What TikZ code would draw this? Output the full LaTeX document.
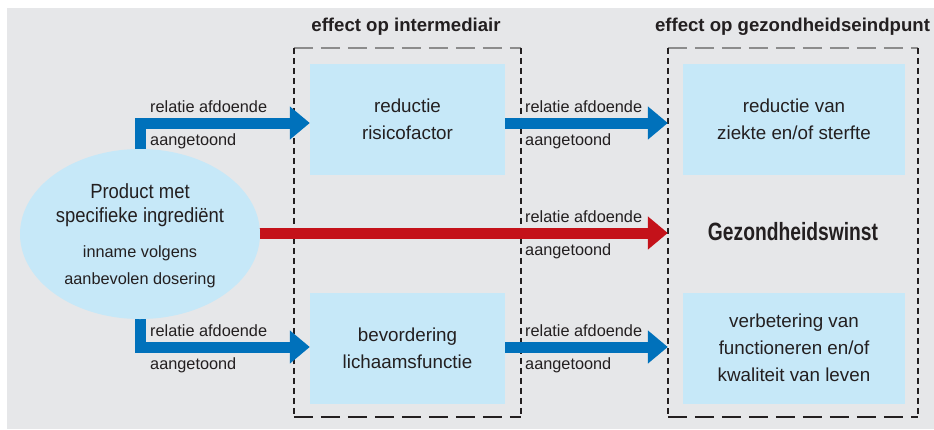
\documentclass[tikz,border=0pt]{standalone}
\usepackage{fontspec}
\setmainfont{Liberation Sans}
\newfontfamily\smalA{Liberation Sans}[FakeStretch=0.9]
\newfontfamily\smalB{Liberation Sans}[FakeStretch=0.77]
\usetikzlibrary{arrows.meta,positioning,shapes.geometric}
\definecolor{achter}{HTML}{E6E7E9}
\definecolor{lichtblauw}{HTML}{C6E8F8}
\definecolor{blauw}{HTML}{0071BB}
\definecolor{rood}{HTML}{C4121A}
\definecolor{tekst}{HTML}{231F20}
\definecolor{grijs}{HTML}{8C8C8C}

\begin{document}
\begin{tikzpicture}[
    x=1pt, y=-1pt,
    every node/.style={text=tekst, inner sep=0pt},
    vak/.style={fill=lichtblauw, minimum width=#1, minimum height=111pt,
                align=center, font=\fontsize{18.8}{27}\selectfont},
    zone/.style={minimum width=#1, minimum height=369pt},
    lbl/.style={anchor=base west, font=\fontsize{16.3}{20}\selectfont},
    kop/.style={anchor=base, font=\fontsize{18.6}{22}\selectfont\bfseries},
    pijl/.style={line width=11pt, line join=miter,
                 -{Triangle[length=20pt,width=32pt]}},
    zijkant/.style={draw=tekst, line width=1.5pt, dash pattern=on 6pt off 4pt},
    boven/.style={draw=grijs, line width=1.5pt, dash pattern=on 19pt off 8pt},
    onder/.style={draw=tekst, line width=1.5pt, dash pattern=on 19pt off 8pt},
  ]
  \useasboundingbox (0,0) rectangle (934,429);
  \fill[achter] (7,8) rectangle (934,429);

  % kaders
  \node[zone=227pt] (inter) at (407.5,232.5) {};
  \node[zone=250pt] (eind) at (793,232.5) {};
  \node[kop] (kopinter) at (406,31.5) {effect op intermediair};
  \node[kop] (kopeind) at (792.5,31.5) {effect op gezondheidseindpunt};
  \foreach \z in {inter,eind}{
    \draw[boven] (\z.north west) -- (\z.north east);
    \draw[onder] (\z.south west) -- (\z.south east);
    \draw[zijkant] (\z.north west) -- (\z.south west);
    \draw[zijkant] (\z.north east) -- (\z.south east);
  }

  \node[vak=195pt] (risico) at (407.5,119.5) {reductie\\risicofactor};
  \node[vak=195pt] (functie) at (407.5,348) {bevordering\\lichaamsfunctie};
  \node[vak=222pt] (ziekte) at (794,119.5) {reductie van\\ziekte en/of sterfte};
  \node[vak=222pt] (leven) at (794,348)
    {verbetering van\\functioneren en/of\\kwaliteit van leven};
  \node[anchor=base, font=\smalB\fontsize{25}{28}\selectfont\bfseries] (winst)
    at (793,240) {Gezondheidswinst};

  % pijlen
  \coordinate (prodtop) at (140,155);
  \coordinate (prodbot) at (140,314);
  \coordinate (prodrechts) at (255,233);
  \draw[pijl,blauw] (prodtop) |- ([yshift=-3.5pt]risico.west);
  \draw[pijl,blauw] (prodbot) |- ([yshift=1pt]functie.west);
  \draw[pijl,rood] (prodrechts) -- (prodrechts -| eind.west);
  \draw[pijl,blauw] ([yshift=-3.5pt]risico.east) -- ([yshift=-3.5pt]risico.east -| eind.west);
  \draw[pijl,blauw] ([yshift=1pt]functie.east) -- ([yshift=1pt]functie.east -| eind.west);

  \node[ellipse, fill=lichtblauw, minimum width=240pt, minimum height=170pt]
    (prod) at (140,234) {};
  \node[align=center, font=\smalA\fontsize{20.5}{24.5}\selectfont] (prodtekst)
    at (140,205) {Product met\\specifieke ingrediënt};
  \node[align=center, font=\fontsize{16.3}{26.5}\selectfont] (dosering)
    at (140,267) {inname volgens\\aanbevolen dosering};

  % labels
  \foreach \x/\y [count=\i] in {150/123,150/347,525/123,525/233,525/347}{
    \node[lbl] (rel\i) at (\x,\y-11) {relatie afdoende};
    \node[lbl] (aan\i) at (\x,\y+22) {aangetoond};
  }
\end{tikzpicture}
\end{document}
